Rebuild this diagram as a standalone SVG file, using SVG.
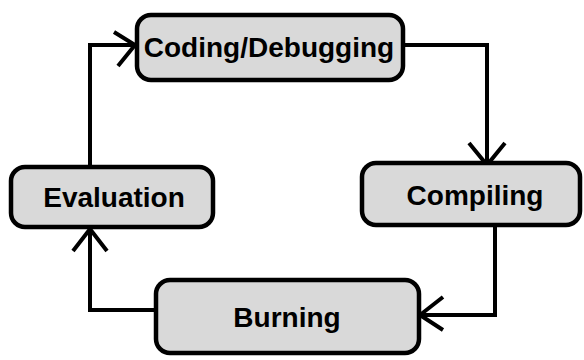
<svg xmlns="http://www.w3.org/2000/svg" width="584" height="360" viewBox="0 0 584 360">
<style>
.box{fill:#d9d9d9;stroke:#000;stroke-width:4.5}
.lbl{font-family:"Liberation Sans",Arial,sans-serif;font-weight:bold;font-size:28px;fill:#000;text-anchor:middle}
.con{fill:none;stroke:#000;stroke-width:4}
</style>
<rect width="584" height="360" fill="#fff"/>
<g id="connectors">
<polyline class="con" points="405,45 487,45 487,163"/>
<polyline class="con" points="469,143 487,165 505,143"/>
<polyline class="con" points="495,227 495,315 422,315"/>
<polyline class="con" points="443,297 420,315 443,330"/>
<polyline class="con" points="154,310 90,310 90,229"/>
<polyline class="con" points="73,251 90,229 107,251"/>
<polyline class="con" points="90,165 90,45 134,45"/>
<polyline class="con" points="114,32 135,45 118,66"/>
</g>
<g id="coding">
<rect class="box" x="137" y="15" width="266" height="65" rx="14"/>
<text class="lbl" x="269" y="57">Coding/Debugging</text>
</g>
<g id="compiling">
<rect class="box" x="362" y="163" width="218" height="62" rx="14"/>
<text class="lbl" x="475" y="205">Compiling</text>
</g>
<g id="burning">
<rect class="box" x="156" y="280" width="263" height="73" rx="14"/>
<text class="lbl" x="287" y="327">Burning</text>
</g>
<g id="evaluation">
<rect class="box" x="11" y="167" width="202" height="60" rx="14"/>
<text class="lbl" x="114" y="207">Evaluation</text>
</g>
</svg>
